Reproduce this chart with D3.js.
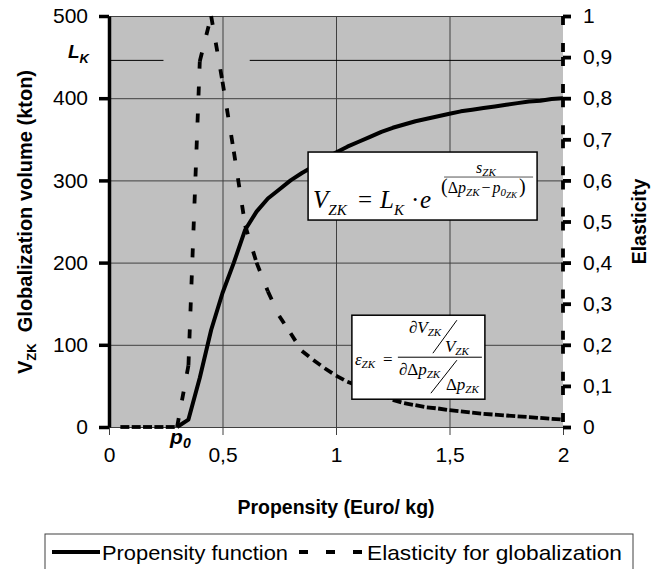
<!DOCTYPE html>
<html>
<head>
<meta charset="utf-8">
<script src="https://cdn.jsdelivr.net/npm/d3@7"></script>
<style>
  body { margin: 0; background: #fff; }
  svg { display: block; font-family: 'Liberation Sans', Arial, sans-serif; }
  .math { font-family: 'Liberation Serif', 'Times New Roman', serif; font-style: italic; }
</style>
</head>
<body>
<svg id="chart" width="660" height="569"></svg>
<script>
// propensity (Euro/kg)
const price = [0, 0.05, 0.1, 0.15, 0.2, 0.25, 0.3, 0.35, 0.4, 0.45, 0.5, 0.55, 0.6, 0.65, 0.7, 0.75, 0.8,
  0.85, 0.9, 0.95, 1, 1.05, 1.1, 1.15, 1.2, 1.25, 1.3, 1.35, 1.4, 1.45, 1.5, 1.55, 1.6, 1.65, 1.7,
  1.75, 1.8, 1.85, 1.9, 1.95, 2]
// globalization volume V_ZK (kton), left axis; null = not plotted
const volume = [null, null, null, null, null, null, 0, 9, 60, 118, 163, 200, 240, 262, 278, 289, 300,
  309, 317, 326, 334, 341, 347, 353, 359, 364, 368, 372, 375, 378, 381, 384, 386, 388, 390,
  392, 394, 396, 397, 399, 400]
// elasticity for globalization, right axis
const elasticity = [null, 0, 0, 0, 0, 0, 0, 0.15, 0.89, 1, 0.84, 0.67, 0.49, 0.4, 0.33, 0.27, 0.228,
  0.185, 0.163, 0.143, 0.125, 0.11, 0.1, 0.09, 0.08, 0.066, 0.058, 0.053, 0.048, 0.045, 0.041, 0.038, 0.035, 0.032, 0.03,
  0.028, 0.026, 0.024, 0.022, 0.02, 0.018]

const xTicks = [0, 0.5, 1, 1.5, 2]
const xTickLabels = ['0', '0,5', '1', '1,5', '2']
const leftTicks = [0, 100, 200, 300, 400, 500]
const rightTicks = [0, 0.1, 0.2, 0.3, 0.4, 0.5, 0.6, 0.7, 0.8, 0.9, 1]
const rightTickLabels = ['0', '0,1', '0,2', '0,3', '0,4', '0,5', '0,6', '0,7', '0,8', '0,9', '1']

// saturation level L_K, drawn as a broken reference line
const lkValue = 446
const lkSegments = [[0, 0.24], [0.62, 2]]
const p0Value = 0.3

const seriesNames = ['Propensity function', 'Elasticity for globalization']

let svg = d3.select('#chart')
let plot = { left: 109, right: 563, top: 16, bottom: 427 }

let x = d3.scaleLinear().domain([0, 2]).range([plot.left, plot.right])
let yL = d3.scaleLinear().domain([0, 500]).range([plot.bottom, plot.top])
let yR = d3.scaleLinear().domain([0, 1]).range([plot.bottom, plot.top])

// Excel restarts the dash pattern at every point, so dashed lines are drawn segment by segment
const dash = '9,18'

// plot background
svg.append('rect')
    .attr('x', plot.left).attr('y', plot.top)
    .attr('width', plot.right - plot.left).attr('height', plot.bottom - plot.top)
    .attr('fill', '#c0c0c0')

// gridlines
svg.append('g')
    .attr('transform', `translate(0,${plot.bottom})`)
    .call(d3.axisBottom(x).tickValues(xTicks.slice(1, -1)).tickSize(-(plot.bottom - plot.top)).tickFormat(''))
    .call(g => g.select('.domain').remove())
    .call(g => g.selectAll('line').attr('stroke', '#404040').attr('stroke-width', 1))
svg.append('g')
    .attr('transform', `translate(${plot.left},0)`)
    .call(d3.axisLeft(yL).tickValues(leftTicks.slice(1)).tickSize(-(plot.right - plot.left)).tickFormat(''))
    .call(g => g.select('.domain').remove())
    .call(g => g.selectAll('line').attr('stroke', '#404040').attr('stroke-width', 1))

// L_K line
let lkLine = d3.line().x(d => x(d)).y(() => yL(lkValue))
svg.append('g').selectAll('path')
  .data(lkSegments)
  .join('path')
    .attr('d', d => lkLine(d))
    .attr('stroke', '#000').attr('stroke-width', 1).attr('fill', 'none')

// bottom axis
let xAxis = svg.append('g')
    .attr('transform', `translate(0,${plot.bottom})`)
    .call(d3.axisBottom(x).tickValues(xTicks).tickSize(8).tickSizeOuter(0).tickPadding(12)
      .tickFormat((d, i) => xTickLabels[i]))
xAxis.select('.domain').attr('stroke', '#404040')
xAxis.selectAll('line').attr('stroke', '#404040')
xAxis.selectAll('text').attr('font-size', 21).attr('fill', '#000')
    .attr('font-family', "'Liberation Sans', Arial, sans-serif")

// series
let volLine = d3.line().defined(d => d[1] !== null).x(d => x(d[0])).y(d => yL(d[1]))
let elLine = d3.line().x(d => x(d[0])).y(d => yR(d[1]))

svg.append('path')
    .datum(price.map((p, i) => [p, volume[i]]))
    .attr('d', volLine)
    .attr('fill', 'none').attr('stroke', '#000')
    .attr('stroke-width', 4).attr('stroke-linejoin', 'round')

let elPoints = price.map((p, i) => [p, elasticity[i]]).filter(d => d[1] !== null)
svg.append('g').selectAll('path')
  .data(d3.pairs(elPoints))
  .join('path')
    .attr('d', d => elLine(d))
    .attr('fill', 'none').attr('stroke', '#000')
    .attr('stroke-width', 3.8).attr('stroke-dasharray', dash)

// left axis
let leftAxis = svg.append('g')
    .attr('transform', `translate(${plot.left},0)`)
    .call(d3.axisLeft(yL).tickValues(leftTicks).tickSize(10).tickSizeOuter(0).tickPadding(11))
leftAxis.select('.domain').attr('stroke', '#000').attr('stroke-width', 3.5)
leftAxis.selectAll('line').attr('stroke', '#000').attr('stroke-width', 3.5)
leftAxis.selectAll('text').attr('font-size', 21).attr('fill', '#000')
    .attr('font-family', "'Liberation Sans', Arial, sans-serif")

// right axis: dashed like its series
let rightAxis = svg.append('g')
    .attr('transform', `translate(${plot.right},0)`)
    .call(d3.axisRight(yR).tickValues(rightTicks).tickSize(8).tickSizeOuter(0).tickPadding(12)
      .tickFormat((d, i) => rightTickLabels[i]))
rightAxis.select('.domain').remove()
rightAxis.selectAll('line').attr('stroke', '#000').attr('stroke-width', 3.8)
rightAxis.selectAll('text').attr('font-size', 21).attr('fill', '#000')
    .attr('font-family', "'Liberation Sans', Arial, sans-serif")
rightAxis.append('g').selectAll('line')
  .data(d3.pairs(rightTicks))
  .join('line')
    .attr('x1', 0).attr('x2', 0)
    .attr('y1', d => yR(d[1])).attr('y2', d => yR(d[0]))
    .attr('stroke', '#000').attr('stroke-width', 3.8).attr('stroke-dasharray', dash)

// axis titles
svg.append('text')
    .attr('x', x(1)).attr('y', 514)
    .attr('text-anchor', 'middle').attr('font-weight', 'bold').attr('font-size', 19.5)
    .text('Propensity (Euro/ kg)')

let leftTitle = svg.append('text')
    .attr('transform', `translate(32,222) rotate(-90)`)
    .attr('text-anchor', 'middle').attr('font-weight', 'bold').attr('font-size', 20)
leftTitle.append('tspan').text('V')
leftTitle.append('tspan').attr('font-size', 13).attr('dy', 4).text('ZK')
leftTitle.append('tspan').attr('dy', -4).text('\u00a0 Globalization volume (kton)')

svg.append('text')
    .attr('transform', `translate(646,${(plot.top + plot.bottom) / 2}) rotate(-90)`)
    .attr('text-anchor', 'middle').attr('font-weight', 'bold').attr('font-size', 19.5)
    .text('Elasticity')

// L_K and p0 labels
let lkLabel = svg.append('text')
    .attr('x', 68).attr('y', yL(lkValue) - 2)
    .attr('font-weight', 'bold').attr('font-style', 'italic').attr('font-size', 19)
lkLabel.append('tspan').text('L')
lkLabel.append('tspan').attr('font-size', 13).attr('dy', 5).text('K')

let p0Label = svg.append('text')
    .attr('x', x(p0Value) - 7).attr('y', plot.bottom + 17)
    .attr('font-weight', 'bold').attr('font-style', 'italic').attr('font-size', 21)
p0Label.append('tspan').text('p')
p0Label.append('tspan').attr('font-size', 14).attr('dy', 4).text('0')

// formula: V_ZK = L_K * e^(s_ZK / (dp_ZK - p0_ZK))
let f1 = svg.append('g').attr('transform', `translate(${x(0.877)},${yL(334.5)})`)
f1.append('rect').attr('width', 229).attr('height', 68)
    .attr('fill', '#fff').attr('stroke', '#000').attr('stroke-width', 1.5)
let mathText = (g, px, py, size, parts) => {
  let t = g.append('text').attr('class', 'math').attr('x', px).attr('y', py).attr('font-size', size)
  parts.forEach(([s, o]) => {
    let ts = t.append('tspan').text(s)
    if (o) {
      Object.entries(o).forEach(([k, v]) => ts.attr(k, v))
    }
  })
  return t
}
mathText(f1, 5, 56, 25, [['V'], ['ZK', { 'font-size': 15, dy: 7 }]])
mathText(f1, 50, 56, 25, [['=', { 'font-style': 'normal' }]])
mathText(f1, 72, 56, 25, [['L'], ['K', { 'font-size': 15, dy: 7 }]])
mathText(f1, 103, 56, 25, [['\u00b7', { 'font-style': 'normal' }]])
mathText(f1, 112, 56, 25, [['e']])
mathText(f1, 168, 21, 16, [['s'], ['ZK', { 'font-size': 11, dy: 3 }]])
f1.append('line').attr('x1', 136).attr('x2', 225).attr('y1', 25).attr('y2', 25)
    .attr('stroke', '#555').attr('stroke-width', 1)
mathText(f1, 133, 41, 16, [
  ['(', { 'font-style': 'normal', 'font-size': 20 }],
  ['\u0394', { 'font-style': 'normal' }], ['p'],
  ['ZK', { 'font-size': 11, dy: 3 }],
  ['\u2212', { 'font-style': 'normal', dy: -3, dx: 2 }],
  ['p', { dx: 2 }],
  ['0', { 'font-size': 11, dy: 3 }],
  ['ZK', { 'font-size': 9, dy: 2 }],
  [')', { 'font-style': 'normal', 'font-size': 20, dy: -5, dx: 2 }]
])

// formula: elasticity
let f2 = svg.append('g').attr('transform', `translate(${x(1.07)},${yL(136)})`)
f2.append('rect').attr('width', 133).attr('height', 84)
    .attr('fill', '#fff').attr('stroke', '#000').attr('stroke-width', 1.5)
mathText(f2, 3, 50, 17, [['\u03b5'], ['ZK', { 'font-size': 11, dy: 3 }]])
mathText(f2, 31, 50, 17, [['=', { 'font-style': 'normal' }]])
f2.append('line').attr('x1', 46).attr('x2', 130).attr('y1', 42).attr('y2', 42)
    .attr('stroke', '#000').attr('stroke-width', 1)
mathText(f2, 57, 18, 17, [['\u2202', { 'font-style': 'normal' }], ['V'], ['ZK', { 'font-size': 11, dy: 3 }]])
mathText(f2, 93, 37, 17, [['V'], ['ZK', { 'font-size': 11, dy: 3 }]])
mathText(f2, 47, 60, 17, [['\u2202\u0394', { 'font-style': 'normal' }], ['p'], ['ZK', { 'font-size': 11, dy: 3 }]])
mathText(f2, 94, 75, 17, [['\u0394', { 'font-style': 'normal' }], ['p'], ['ZK', { 'font-size': 11, dy: 3 }]])
f2.append('line').attr('x1', 105).attr('y1', 5).attr('x2', 81).attr('y2', 38)
    .attr('stroke', '#000').attr('stroke-width', 1)
f2.append('line').attr('x1', 105).attr('y1', 45).attr('x2', 79).attr('y2', 78)
    .attr('stroke', '#000').attr('stroke-width', 1)

// legend
let legend = svg.append('g').attr('transform', 'translate(45,534)')
legend.append('rect').attr('width', 588).attr('height', 44)
    .attr('fill', '#fff').attr('stroke', '#404040').attr('stroke-width', 1)
legend.append('line').attr('x1', 7).attr('x2', 55).attr('y1', 18).attr('y2', 18)
    .attr('stroke', '#000').attr('stroke-width', 4)
legend.append('line').attr('x1', 254).attr('x2', 318).attr('y1', 18).attr('y2', 18)
    .attr('stroke', '#000').attr('stroke-width', 4).attr('stroke-dasharray', dash)
legend.selectAll('text.item')
  .data(seriesNames)
  .join('text')
    .attr('class', 'item')
    .attr('x', (d, i) => i === 0 ? 57 : 322)
    .attr('y', 26)
    .attr('font-size', 21)
    .attr('textLength', (d, i) => i === 0 ? 186 : 255)
    .attr('lengthAdjust', 'spacingAndGlyphs')
    .text(d => d)
</script>
</body>
</html>
